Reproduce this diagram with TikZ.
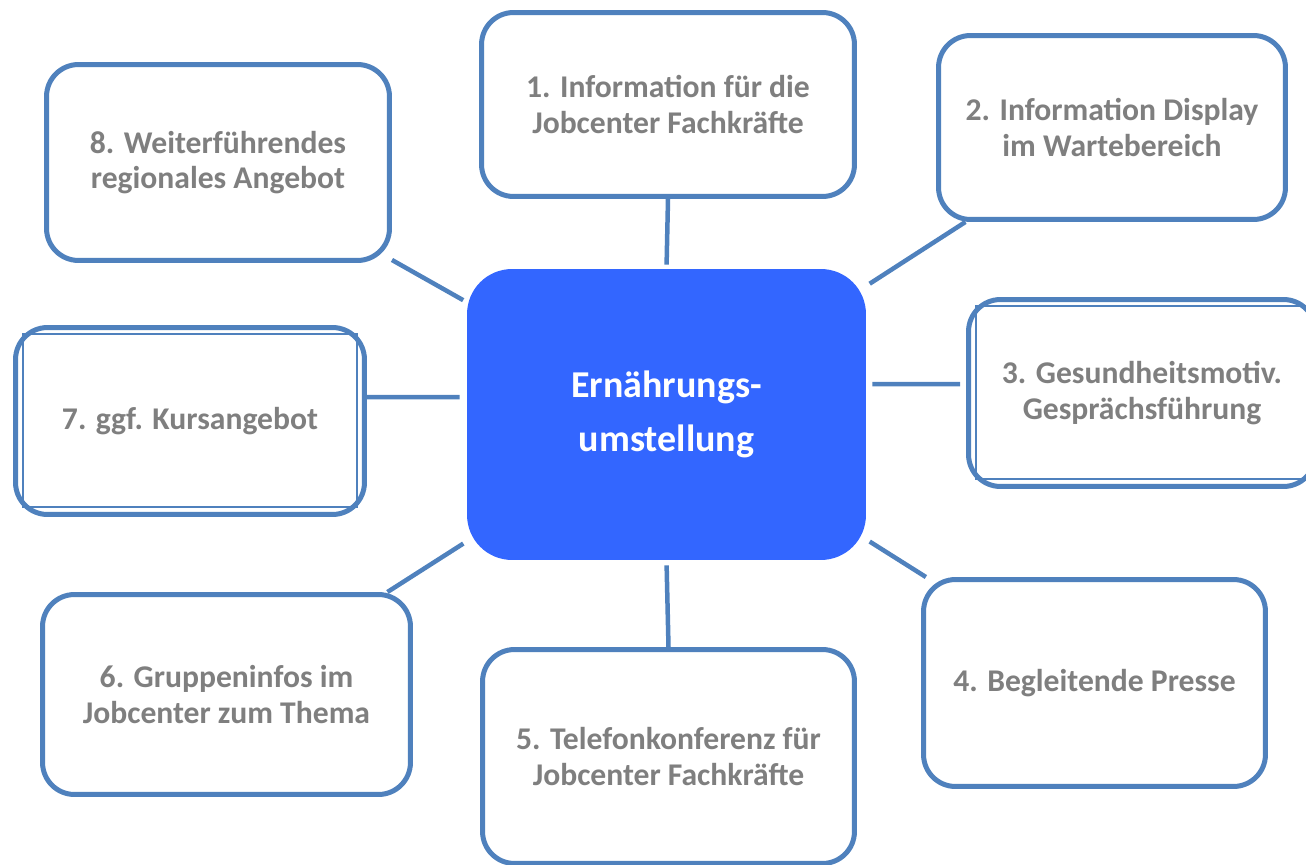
\documentclass[tikz,border=0pt]{standalone}
\usepackage{fontspec}
\setmainfont{Carlito}
\usetikzlibrary{backgrounds}

\definecolor{boxblue}{HTML}{4F81BD}
\definecolor{corefill}{HTML}{3366FF}
\definecolor{labelgray}{HTML}{7F7F7F}

\begin{document}
\begin{tikzpicture}[
  x=0.02cm, y=-0.02cm,
  % Node styles
  topic/.style={draw=boxblue, line width=0.1cm, rounded corners=0.64cm, fill=white,
                align=center, text=labelgray, font=\fontsize{18}{20.2}\selectfont\bfseries},
  core/.style={fill=corefill, rounded corners=0.9cm, align=center, text=white,
               minimum width=7.98cm, minimum height=5.82cm,
               font=\fontsize{21.6}{30.6}\selectfont\bfseries},
  % Inner frame and connector styles
  frame/.style={draw=boxblue, line width=0.8pt},
  link/.style={draw=boxblue, line width=0.09cm},
]
\useasboundingbox (0,0) rectangle (1306,865);

% === Central node ===
\node[core] (ctr) at (666.5, 414.5) {Ernährungs-\\umstellung};

% === Surrounding topics ===
\node[topic, minimum width=7.46cm, minimum height=3.68cm] (b1) at (668, 104.5)
  {1. Information für die\\Jobcenter Fachkräfte};
\node[topic, minimum width=6.94cm, minimum height=3.68cm] (b2) at (1112, 127.5)
  {2. Information Display\\im Wartebereich};
\node[topic, minimum width=6.94cm, minimum height=3.74cm] (b3) at (1142, 393)
  {3. Gesundheitsmotiv.\\Gesprächsführung};
\node[topic, minimum width=6.84cm, minimum height=4.14cm] (b4) at (1094.5, 683)
  {4. Begleitende Presse};
\node[topic, minimum width=7.44cm, minimum height=4.28cm] (b5) at (668.5, 756.5)
  {5. Telefonkonferenz für\\Jobcenter Fachkräfte};
\node[topic, minimum width=7.36cm, minimum height=4.0cm] (b6) at (226.5, 694.5)
  {6. Gruppeninfos im\\Jobcenter zum Thema};
\node[topic, minimum width=6.98cm, minimum height=3.74cm] (b7) at (190, 421)
  {7. ggf. Kursangebot};
\node[topic, minimum width=6.86cm, minimum height=3.92cm] (b8) at (218, 162.5)
  {8. Weiterführendes\\regionales Angebot};

% inner frames of 3 and 7
\draw[frame] ([shift={(10,9)}]b3.north west) rectangle ([shift={(-10,-10)}]b3.south east);
\draw[frame] ([shift={(10,9)}]b7.north west) rectangle ([shift={(-10,-10)}]b7.south east);

% === Connectors ===
\begin{scope}[on background layer]
  \draw[link, shorten <=0.08cm] (ctr.north) -- (b1.south);
  \draw[link, shorten <=0.08cm] (ctr) -- (b2);
  \draw[link, shorten <=0.12cm, shorten >=0.12cm] ([yshift=0.61cm]ctr.east) -- ([yshift=0.18cm]b3.west);
  \draw[link, shorten <=0.08cm] (ctr) -- (b4);
  \draw[link, shorten <=0.1cm] (ctr.south) -- (b5.north);
  \draw[link, shorten <=0.08cm] (ctr) -- (b6);
  \draw[link, shorten <=0.14cm] ([yshift=0.35cm]ctr.west) -- ([yshift=0.48cm]b7.east);
  \draw[link, shorten <=0.08cm] (ctr) -- (b8);
\end{scope}

\end{tikzpicture}
\end{document}
